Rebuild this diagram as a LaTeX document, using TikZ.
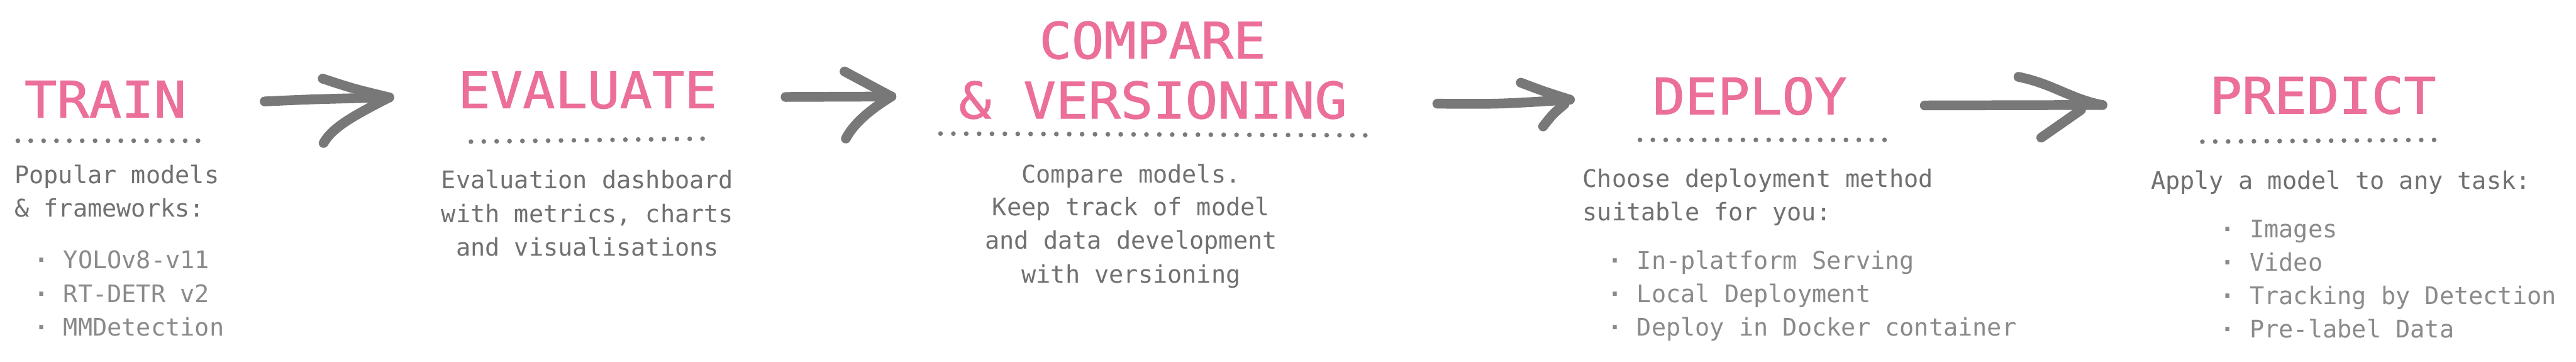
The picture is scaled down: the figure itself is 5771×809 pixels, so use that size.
\documentclass[tikz,border=0pt]{standalone}
\usepackage{fontspec}
\usepackage{graphicx}
\setmonofont{DejaVu Sans Mono}
\newfontfamily\titlefont{DejaVu Sans Mono}[FakeBold=1.2]
\definecolor{pinkc}{HTML}{EB6F9A}
\definecolor{txtgray}{HTML}{707070}
\definecolor{itemgray}{HTML}{8A8A8A}
\definecolor{dotgray}{HTML}{7A7A7A}
\definecolor{arrowgray}{HTML}{787878}
\newcommand{\bul}{\textbf{·}}
\begin{document}
\begin{tikzpicture}[x=0.01cm,y=-0.01cm,
  title/.style={inner sep=0pt,anchor=base,text=pinkc,font=\titlefont\fontsize{32}{38}\selectfont},
  body/.style={inner sep=0pt,anchor=base west,text=txtgray,font=\ttfamily\fontsize{15.45}{21}\selectfont},
  bodyc/.style={body,anchor=base},
  item/.style={body,text=itemgray},
  dots/.style={draw=dotgray,line width=3pt,line cap=round,dash pattern=on 0pt off 8.2pt},
  arrowline/.style={draw=arrowgray,line width=6.2pt,line cap=round,line join=round}]
\useasboundingbox[fill=white] (0,0) rectangle (5771,809);

% ---------- TRAIN ----------
\node[title] (train) at (236,263) {\scalebox{1.07}[1]{TRAIN}};
\draw[dots] (40,315) -- (451,315);
\node[body] (tr1) at (32,411) {Popular models};
\node[body] (tr2) at (32,485) {\& frameworks:};
\node[item] (tr3) at (76,601) {\bul{} YOLOv8-v11};
\node[item] (tr4) at (76,677) {\bul{} RT-DETR v2};
\node[item] (tr5) at (76,752) {\bul{} MMDetection};

% ---------- EVALUATE ----------
\node[title] (eval) at (1316,242) {\scalebox{1.07}[1]{EVALUATE}};
\draw[dots] (1055,317) -- (1600,310);
\node[bodyc] (ev1) at (1316,422) {Evaluation dashboard};
\node[bodyc] (ev2) at (1316,498) {with metrics, charts};
\node[bodyc] (ev3) at (1316,573) {and visualisations};

% ---------- COMPARE ----------
\node[title] (cmp1) at (2582,131) {\scalebox{1.07}[1]{COMPARE}};
\node[title] (cmp2) at (2583,265) {\scalebox{1.07}[1]{\& VERSIONING}};
\draw[dots] (2107,299) -- (3083,303);
\node[bodyc] (cm1) at (2534,409) {Compare models.};
\node[bodyc] (cm2) at (2534,483) {Keep track of model};
\node[bodyc] (cm3) at (2534,557) {and data development};
\node[bodyc] (cm4) at (2534,633) {with versioning};

% ---------- DEPLOY ----------
\node[title] (deploy) at (3920,256) {\scalebox{1.07}[1]{DEPLOY}};
\draw[dots] (3674,313) -- (4226,313);
\node[body] (dp1) at (3545,419) {Choose deployment method};
\node[body] (dp2) at (3545,494) {suitable for you:};
\node[item] (dp3) at (3601,602) {\bul{} In-platform Serving};
\node[item] (dp4) at (3601,677) {\bul{} Local Deployment};
\node[item] (dp5) at (3601,752) {\bul{} Deploy in Docker container};

% ---------- PREDICT ----------
\node[title] (predict) at (5204,254) {\scalebox{1.07}[1]{PREDICT}};
\draw[dots] (4934,317) -- (5456,313);
\node[body] (pr1) at (4818,424) {Apply a model to any task:};
\node[item] (pr2) at (4974,532) {\bul{} Images};
\node[item] (pr3) at (4974,607) {\bul{} Video};
\node[item] (pr4) at (4974,681) {\bul{} Tracking by Detection};
\node[item] (pr5) at (4974,756) {\bul{} Pre-label Data};

% ---------- arrows ----------
\coordinate (a1s) at (593,227); \coordinate (a1t) at (872,218);
\coordinate (a1u) at (723,176); \coordinate (a1l) at (725,320);
\draw[arrowline] (a1s) .. controls (700,222) .. (a1t);
\draw[arrowline] (a1u) .. controls (790,198) .. (a1t);
\draw[arrowline] (a1l) .. controls (745,285) and (790,260) .. (a1t);

\coordinate (a2s) at (1760,217); \coordinate (a2t) at (1997,216);
\coordinate (a2u) at (1892,160); \coordinate (a2l) at (1895,310);
\draw[arrowline] (a2s) -- (a2t);
\draw[arrowline] (a2u) .. controls (1945,188) .. (a2t);
\draw[arrowline] (a2l) .. controls (1912,278) and (1945,248) .. (a2t);

\coordinate (a3s) at (3220,232); \coordinate (a3t) at (3517,223);
\coordinate (a3u) at (3407,185); \coordinate (a3l) at (3457,283);
\draw[arrowline] (a3s) .. controls (3360,233) .. (a3t);
\draw[arrowline] (a3u) .. controls (3460,205) .. (a3t);
\draw[arrowline] (a3l) .. controls (3478,256) .. (3505,233);

\coordinate (a4s) at (4312,236); \coordinate (a4t) at (4710,235);
\coordinate (a4u) at (4522,172); \coordinate (a4l) at (4573,308);
\draw[arrowline] (a4s) -- (a4t);
\draw[arrowline] (a4u) .. controls (4600,188) and (4640,222) .. (a4t);
\draw[arrowline] (a4l) -- (4662,246);
\end{tikzpicture}
\end{document}
